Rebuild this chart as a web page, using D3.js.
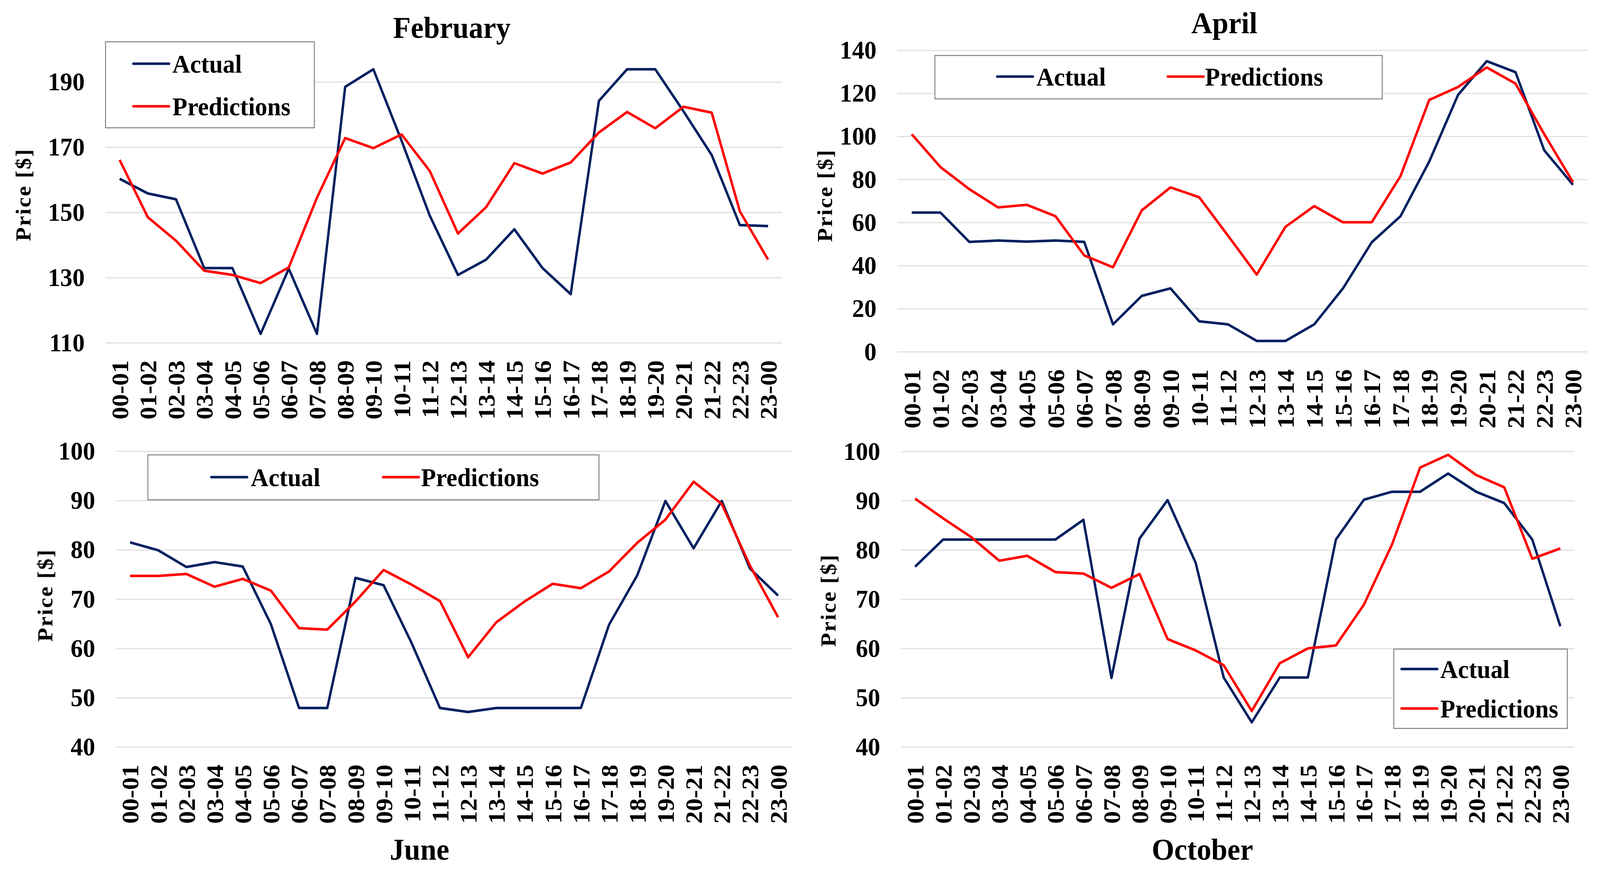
<!DOCTYPE html>
<html>
<head>
<meta charset="utf-8">
<script src="https://cdn.jsdelivr.net/npm/d3@7"></script>
<style>
  html, body { margin: 0; padding: 0; background: #fff; overflow: hidden; width: 100%; height: 100%; }
  #chart { width: 100vw; height: 100vh; }
  svg { display: block; }
  text { font-family: "Liberation Serif", "Times New Roman", serif; font-weight: bold; fill: #000; }
</style>
</head>
<body>
<div id="chart"></div>
<script>
// hour slots on the x axis
var hours = ["00-01", "01-02", "02-03", "03-04", "04-05", "05-06", "06-07", "07-08",
  "08-09", "09-10", "10-11", "11-12", "12-13", "13-14", "14-15", "15-16",
  "16-17", "17-18", "18-19", "19-20", "20-21", "21-22", "22-23", "23-00"];

var seriesNames = ["Actual", "Predictions"];

// prices
var febActual = [160.3, 155.8, 154.0, 132.9, 132.9, 112.7, 132.7, 112.7, 188.5, 193.9, 172.0, 149.0,
  130.8, 135.5, 144.8, 132.9, 124.9, 184.2, 193.9, 193.9, 181.0, 167.6, 146.1, 145.8];
var febPred = [166.1, 148.5, 141.3, 132.1, 130.8, 128.3, 133.1, 154.5, 172.8, 169.7, 173.9, 162.7,
  143.5, 151.6, 165.1, 161.9, 165.3, 174.5, 180.8, 175.8, 182.4, 180.6, 150.3, 135.5];

var aprActual = [64.6, 64.6, 51.0, 51.6, 51.1, 51.6, 51.0, 12.7, 25.9, 29.4, 14.1, 12.7,
  5.0, 5.0, 12.7, 29.4, 50.8, 62.9, 88.3, 119.2, 134.9, 129.8, 93.5, 77.5];
var aprPred = [101.0, 85.7, 75.5, 67.0, 68.2, 62.9, 44.7, 39.2, 65.6, 76.3, 71.7, 53.9,
  35.8, 58.0, 67.6, 60.1, 60.1, 81.5, 116.9, 122.9, 132.0, 124.5, 101.0, 78.7];

var junActual = [81.5, 79.9, 76.5, 77.5, 76.6, 64.9, 47.9, 47.9, 74.3, 72.8, 61.0, 47.9,
  47.1, 47.9, 47.9, 47.9, 47.9, 64.8, 74.8, 89.9, 80.3, 89.9, 76.2, 70.7];
var junPred = [74.7, 74.7, 75.1, 72.5, 74.1, 71.7, 64.1, 63.8, 69.5, 75.9, 72.9, 69.6,
  58.2, 65.3, 69.5, 73.1, 72.2, 75.6, 81.4, 86.1, 93.8, 89.3, 76.8, 66.3];

var octActual = [76.6, 82.1, 82.1, 82.1, 82.1, 82.1, 86.1, 54.0, 82.3, 90.1, 77.4, 54.1,
  45.0, 54.1, 54.1, 82.1, 90.2, 91.8, 91.8, 95.5, 91.8, 89.5, 82.1, 64.5];
var octPred = [90.4, 86.4, 82.6, 77.8, 78.8, 75.5, 75.2, 72.3, 75.1, 61.9, 59.6, 56.6,
  47.3, 57.0, 60.0, 60.6, 68.9, 81.1, 96.7, 99.3, 95.2, 92.7, 78.2, 80.3];

// y axis ticks per month
var febTicks = [110, 130, 150, 170, 190];
var aprTicks = [0, 20, 40, 60, 80, 100, 120, 140];
var junTicks = [40, 50, 60, 70, 80, 90, 100];
var octTicks = [40, 50, 60, 70, 80, 90, 100];

var colors = ["#002060", "#ff0000"];

var W = 4306, H = 2234;
// drawn in a fixed 4306x2234 frame, scaled to whatever the viewport is
var svg = d3.select("#chart").append("svg")
  .attr("viewBox", "0 0 " + W + " " + H)
  .attr("preserveAspectRatio", "none")
  .attr("width", "100%").attr("height", "100%");

// layout for each panel
var panels = [
  { title: "February", actual: febActual, pred: febPred, ticks: febTicks, domain: [110, 200],
    left: 284, right: 2105, top: 126.4, bottom: 877,
    titleX: 1216, titleY: 97, ylabX: 62, ylabY: 498,
    legend: { x: 284, y: 107, w: 562, h: 220, items: [[359, 163, 464], [359, 272, 464]] } },
  { title: "April", actual: aprActual, pred: aprPred, ticks: aprTicks, domain: [0, 140],
    left: 2415, right: 4272, top: 128.4, bottom: 900,
    titleX: 3295, titleY: 85, ylabX: 2219, ylabY: 500,
    legend: { x: 2516, y: 142, w: 1204, h: 111, items: [[2684, 196, 2789], [3143, 196, 3243]] } },
  { title: "June", actual: junActual, pred: junPred, ticks: junTicks, domain: [40, 100],
    left: 312, right: 2132, top: 1154.5, bottom: 1911.5,
    titleX: 1129, titleY: 2200, ylabX: 121, ylabY: 1523,
    legend: { x: 398, y: 1164, w: 1214, h: 115, items: [[569, 1221, 675], [1031, 1221, 1133]] } },
  { title: "October", actual: octActual, pred: octPred, ticks: octTicks, domain: [40, 100],
    left: 2425, right: 4237, top: 1155, bottom: 1911.5,
    titleX: 3236, titleY: 2200, ylabX: 2228, ylabY: 1536,
    legend: { x: 3751, y: 1661, w: 467, h: 203, items: [[3772, 1712, 3876], [3772, 1813, 3876]] } }
];

panels.forEach(function(p) {
  var g = svg.append("g");

  var x = d3.scaleBand().domain(hours).range([p.left, p.right]);
  var y = d3.scaleLinear().domain(p.domain).range([p.bottom, p.top]);
  var cx = function(h) { return x(h) + x.bandwidth() / 2; };

  // gridlines + y tick labels
  var yAxis = g.append("g")
    .attr("transform", "translate(" + p.left + ",0)")
    .call(d3.axisLeft(y).tickValues(p.ticks).tickSize(-(p.right - p.left)).tickPadding(56).tickFormat(d3.format("d")));
  yAxis.select(".domain").remove();
  yAxis.selectAll("line").attr("stroke", "#e0e0e0").attr("stroke-width", 3);
  yAxis.selectAll("text").style("font-size", "66px");

  // x tick labels, vertical
  var xAxis = g.append("g")
    .attr("transform", "translate(0," + p.bottom + ")")
    .call(d3.axisBottom(x).tickSize(0));
  xAxis.select(".domain").remove();
  xAxis.selectAll("text")
    .attr("transform", "rotate(-90)")
    .attr("x", -45).attr("y", 0).attr("dy", "0.35em")
    .style("text-anchor", "end")
    .style("font-size", "65px");

  // lines
  var line = d3.line()
    .x(function(d, i) { return cx(hours[i]); })
    .y(function(d) { return y(d); });

  [p.actual, p.pred].forEach(function(vals, k) {
    g.append("path")
      .datum(vals)
      .attr("fill", "none")
      .attr("stroke", colors[k])
      .attr("stroke-width", 6.5)
      .attr("stroke-linejoin", "round")
      .attr("d", line);
  });

  // title
  g.append("text")
    .attr("x", p.titleX).attr("y", p.titleY)
    .style("text-anchor", "middle")
    .style("font-size", "78px")
    .text(p.title);

  // y label
  g.append("text")
    .attr("transform", "translate(" + p.ylabX + "," + p.ylabY + ") rotate(-90)")
    .attr("dy", "0.35em")
    .style("text-anchor", "middle")
    .style("font-size", "58px")
    .style("letter-spacing", "3px")
    .text("Price [$]");

  // legend
  var lg = p.legend;
  g.append("rect")
    .attr("x", lg.x).attr("y", lg.y).attr("width", lg.w).attr("height", lg.h)
    .attr("fill", "#fff").attr("stroke", "#7f7f7f").attr("stroke-width", 2.5);
  lg.items.forEach(function(it, k) {
    g.append("line")
      .attr("x1", it[0]).attr("x2", it[0] + 96)
      .attr("y1", it[1]).attr("y2", it[1])
      .attr("stroke", colors[k]).attr("stroke-width", 6.5)
      .attr("stroke-linecap", "round");
    g.append("text")
      .attr("x", it[2]).attr("y", it[1])
      .attr("dy", "0.35em")
      .style("font-size", "66px")
      .text(seriesNames[k]);
  });
});
</script>
</body>
</html>
